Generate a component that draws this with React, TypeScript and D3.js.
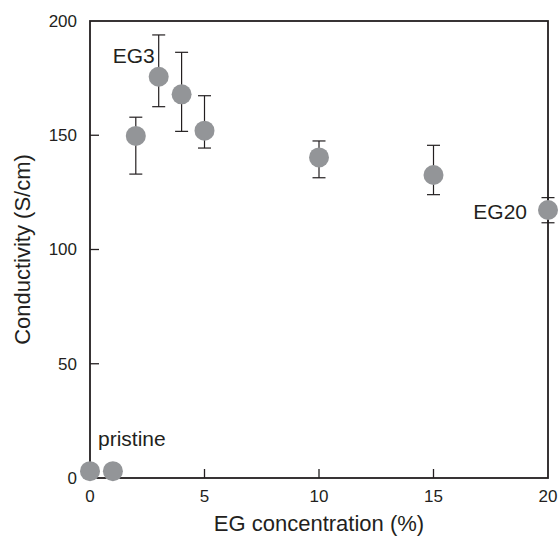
import React, { useEffect, useRef } from 'react';
import * as d3 from 'd3';

// EG concentration (%) and measured conductivity (S/cm)
const concentrations = [0, 1, 2, 3, 4, 5, 10, 15, 20];
const conductivity = [3, 3, 149.7, 175.6, 167.9, 152, 140.3, 132.6, 117.3];
const errLow = [null, null, 133, 162.5, 151.7, 144.4, 131.4, 124, 111.7];
const errHigh = [null, null, 157.9, 193.9, 186.3, 167.3, 147.5, 145.6, 122.7];

const xTicks = [0, 5, 10, 15, 20];
const yTicks = [0, 50, 100, 150, 200];

const annotations = [
  { text: 'EG3', x: 3, y: 175.6, dx: -46, dy: -14, anchor: 'start' },
  { text: 'EG20', x: 20, y: 117.3, dx: -21, dy: 9, anchor: 'end' },
  { text: 'pristine', x: 0, y: 3, dx: 8, dy: -25, anchor: 'start' },
];

const App = () => {
  const ref = useRef<SVGSVGElement>(null);

  useEffect(() => {
    const svg = d3.select(ref.current);
    svg.selectAll('*').remove();

    const font = '"Liberation Sans", Arial, sans-serif';
    const x = d3.scaleLinear().domain([0, 20]).range([90, 548]);
    const y = d3.scaleLinear().domain([0, 200]).range([478, 21]);

    const data = concentrations.map((c, i) => ({
      c,
      v: conductivity[i],
      lo: errLow[i],
      hi: errHigh[i],
    }));

    // frame
    svg
      .append('rect')
      .attr('x', x(0))
      .attr('y', y(200))
      .attr('width', x(20) - x(0))
      .attr('height', y(0) - y(200))
      .attr('fill', 'none')
      .attr('stroke', '#231f20')
      .attr('stroke-width', 1.8);

    // inward ticks
    svg
      .selectAll('line.xt')
      .data(xTicks.slice(1, -1))
      .enter()
      .append('line')
      .attr('x1', (d) => x(d))
      .attr('x2', (d) => x(d))
      .attr('y1', y(0))
      .attr('y2', y(0) - 9)
      .attr('stroke', '#231f20')
      .attr('stroke-width', 1.3);

    svg
      .selectAll('line.yt')
      .data(yTicks.slice(1, -1))
      .enter()
      .append('line')
      .attr('x1', x(0))
      .attr('x2', x(0) + 9)
      .attr('y1', (d) => y(d))
      .attr('y2', (d) => y(d))
      .attr('stroke', '#231f20')
      .attr('stroke-width', 1.3);

    // tick labels
    svg
      .selectAll('text.xl')
      .data(xTicks)
      .enter()
      .append('text')
      .attr('x', (d) => x(d))
      .attr('y', 502)
      .attr('text-anchor', 'middle')
      .attr('font-family', font)
      .attr('font-size', 17)
      .attr('fill', '#231f20')
      .text((d) => d);

    svg
      .selectAll('text.yl')
      .data(yTicks)
      .enter()
      .append('text')
      .attr('x', 77)
      .attr('y', (d) => y(d))
      .attr('dy', '0.35em')
      .attr('text-anchor', 'end')
      .attr('font-family', font)
      .attr('font-size', 17)
      .attr('fill', '#231f20')
      .text((d) => d);

    // axis titles
    svg
      .append('text')
      .attr('x', (x(0) + x(20)) / 2)
      .attr('y', 531)
      .attr('text-anchor', 'middle')
      .attr('font-family', font)
      .attr('font-size', 22)
      .attr('fill', '#231f20')
      .text('EG concentration (%)');

    svg
      .append('text')
      .attr('transform', `translate(30,${(y(0) + y(200)) / 2}) rotate(-90)`)
      .attr('text-anchor', 'middle')
      .attr('font-family', font)
      .attr('font-size', 22)
      .attr('fill', '#231f20')
      .text('Conductivity (S/cm)');

    // error bars
    const withErr = data.filter((d) => d.lo !== null);
    const cap = 6.5;
    const eb = svg.append('g').attr('stroke', '#231f20').attr('stroke-width', 1.2);
    withErr.forEach((d) => {
      eb.append('line')
        .attr('x1', x(d.c))
        .attr('x2', x(d.c))
        .attr('y1', y(d.lo as number))
        .attr('y2', y(d.hi as number));
      [d.lo, d.hi].forEach((v) => {
        eb.append('line')
          .attr('x1', x(d.c) - cap)
          .attr('x2', x(d.c) + cap)
          .attr('y1', y(v as number))
          .attr('y2', y(v as number));
      });
    });

    // points
    svg
      .selectAll('circle')
      .data(data)
      .enter()
      .append('circle')
      .attr('cx', (d) => x(d.c))
      .attr('cy', (d) => y(d.v))
      .attr('r', 10)
      .attr('fill', '#939598');

    // labels
    svg
      .selectAll('text.ann')
      .data(annotations)
      .enter()
      .append('text')
      .attr('x', (d) => x(d.x) + d.dx)
      .attr('y', (d) => y(d.y) + d.dy)
      .attr('text-anchor', (d) => d.anchor)
      .attr('font-family', font)
      .attr('font-size', 21)
      .attr('fill', '#231f20')
      .text((d) => d.text);
  }, []);

  return (
    <svg
      ref={ref}
      width={560}
      height={537}
      style={{ position: 'absolute', left: 0, top: 0, background: '#fff' }}
    />
  );
};

export default App;
